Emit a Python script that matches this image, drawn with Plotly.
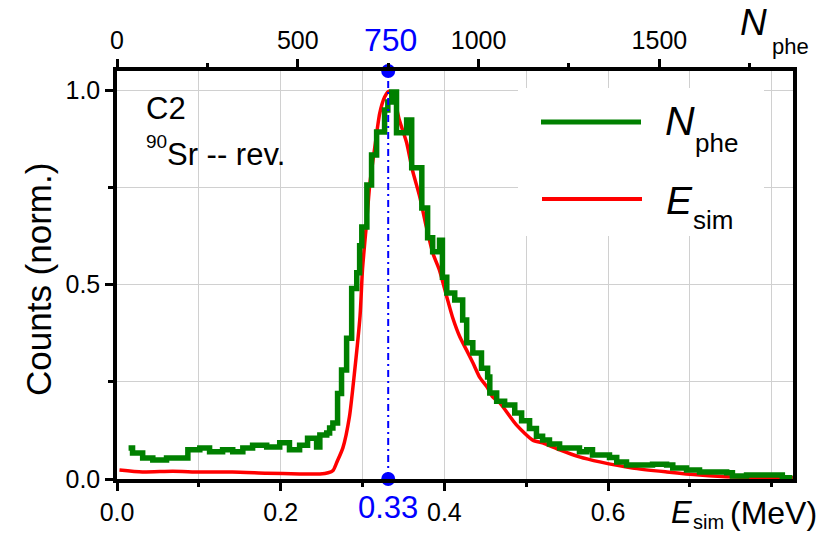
import plotly.graph_objects as go

# ---------------- data ----------------
# green histogram: N_phe (top axis), step start positions and normalised counts
n_phe = [32, 43, 71, 99, 137, 196, 229, 256, 292, 320, 348, 375, 414, 450, 477, 505,
         527, 552, 561, 580, 588, 597, 610, 621, 635, 649, 663, 671, 677, 691, 704,
         718, 740, 749, 760, 773, 801, 815, 843, 859, 873, 892, 900, 912, 934, 956,
         967, 984, 1008, 1025, 1031, 1050, 1072, 1100, 1119, 1141, 1160, 1177, 1196,
         1224, 1279, 1299, 1315, 1362, 1382, 1409, 1481, 1520, 1537, 1575, 1611, 1686,
         1702, 1741, 1813, 1840, 1868]
counts_phe = [0.080, 0.067, 0.054, 0.049, 0.054, 0.075, 0.080, 0.070, 0.075, 0.070, 0.080,
              0.087, 0.082, 0.093, 0.075, 0.087, 0.105, 0.082, 0.113, 0.118, 0.131, 0.144,
              0.220, 0.280, 0.362, 0.490, 0.530, 0.600, 0.648, 0.756, 0.833, 0.892, 0.949,
              0.969, 0.995, 0.890, 0.923, 0.800, 0.697, 0.620, 0.584, 0.614, 0.519, 0.478,
              0.460, 0.409, 0.350, 0.324, 0.285, 0.262, 0.221, 0.200, 0.190, 0.170, 0.150,
              0.130, 0.110, 0.100, 0.090, 0.080, 0.070, 0.075, 0.062, 0.055, 0.044, 0.036,
              0.038, 0.036, 0.028, 0.023, 0.018, 0.016, 0.008, 0.010, 0.010, 0.003, 0.003]

# red curve: simulated energy (bottom axis, MeV)
e_sim = [0.003, 0.031, 0.068, 0.101, 0.141, 0.183, 0.223, 0.248, 0.258, 0.264, 0.269,
         0.276, 0.284, 0.290, 0.297, 0.300, 0.305, 0.309, 0.315, 0.321, 0.327, 0.332,
         0.339, 0.345, 0.354, 0.361, 0.370, 0.378, 0.386, 0.394, 0.403, 0.410, 0.419,
         0.427, 0.435, 0.443, 0.452, 0.459, 0.468, 0.488, 0.508, 0.520, 0.541, 0.565,
         0.590, 0.630, 0.672, 0.712, 0.753, 0.794, 0.826]
counts_sim = [0.023, 0.018, 0.020, 0.018, 0.018, 0.015, 0.013, 0.013, 0.016, 0.022, 0.045,
              0.080, 0.160, 0.270, 0.420, 0.540, 0.660, 0.760, 0.853, 0.940, 0.982, 0.997,
              0.974, 0.923, 0.864, 0.794, 0.725, 0.648, 0.580, 0.537, 0.468, 0.416, 0.365,
              0.332, 0.298, 0.262, 0.237, 0.211, 0.195, 0.139, 0.100, 0.093, 0.075, 0.057,
              0.044, 0.028, 0.018, 0.010, 0.005, 0.004, 0.003]

peak_phe = 750
peak_e = 0.33
x_ticks = [0.0, 0.2, 0.4, 0.6]
x2_ticks = [0, 500, 1000, 1500]
y_ticks = [0.0, 0.5, 1.0]

# ---------------- layout helpers ----------------
L, R, T, B = 117, 34, 71, 55
W, H = 827, 534
PW, PH = W - L - R, H - T - B
FONT = "Liberation Sans, Arial, sans-serif"


def px(x):
    return (x - L) / PW


def py(y):
    return (H - B - y) / PH


fig = go.Figure()

fig.add_trace(go.Scatter(x=e_sim, y=counts_sim, mode="lines", xaxis="x", yaxis="y",
                         line=dict(color="#ff0000", width=3.5, shape="spline", smoothing=0.6),
                         showlegend=False))
fig.add_trace(go.Scatter(x=n_phe, y=counts_phe, mode="lines", xaxis="x2", yaxis="y",
                         line=dict(color="#008000", width=5.5, shape="hv"),
                         showlegend=False))
fig.add_trace(go.Scatter(x=[peak_phe, peak_phe], y=[0, 1.049], mode="lines+markers",
                         xaxis="x2", yaxis="y", cliponaxis=False,
                         line=dict(color="#0000ff", width=2, dash="7px,4px,2px,4px"),
                         marker=dict(color="#0000ff", size=14), showlegend=False))

grid = "#d0d0d0"
axis_common = dict(showline=True, linecolor="black", linewidth=3.5, ticks="outside",
                   ticklen=8, tickwidth=3, tickcolor="black", automargin=False,
                   tickfont=dict(family=FONT, size=25, color="black"), zeroline=False)

fig.update_layout(
    width=W, height=H, margin=dict(l=L, r=R, t=T, b=B, pad=0, autoexpand=False),
    paper_bgcolor="white", plot_bgcolor="white",
    xaxis=dict(range=[0, 0.826], tickvals=x_ticks, tickformat=".1f",
               showgrid=True, gridcolor=grid, gridwidth=1.2, mirror=False,
               minor=dict(dtick=0.1, tick0=0, ticks="outside", ticklen=4, tickwidth=3,
                          tickcolor="black", showgrid=True, gridcolor=grid, gridwidth=1.2),
               **axis_common),
    xaxis2=dict(range=[0, 1869.5], tickvals=x2_ticks, overlaying="x", side="top",
                showgrid=False, anchor="y",
                minor=dict(dtick=250, tick0=0, ticks="outside", ticklen=4, tickwidth=3,
                           tickcolor="black"),
                **axis_common),
    yaxis=dict(range=[0, 1.049], tickvals=y_ticks, tickformat=".1f",
               showgrid=True, gridcolor=grid, gridwidth=1.2, mirror=True,
               minor=dict(dtick=0.25, tick0=0, ticks="outside", ticklen=5, tickwidth=3,
                          tickcolor="black", showgrid=True, gridcolor=grid, gridwidth=1.2),
               **axis_common),
)

# legend (manual) with white background
fig.add_shape(type="rect", xref="paper", yref="paper", x0=px(518), x1=px(764),
              y0=py(236), y1=py(88), fillcolor="white", line=dict(width=0), layer="above")
fig.add_shape(type="line", xref="paper", yref="paper", x0=px(541), x1=px(641),
              y0=py(122), y1=py(122), line=dict(color="#008000", width=5), layer="above")
fig.add_shape(type="line", xref="paper", yref="paper", x0=px(542), x1=px(642),
              y0=py(199), y1=py(199), line=dict(color="#ff0000", width=4), layer="above")


def ann(text, x, y, size, xanchor="left", color="black", italic=False, angle=0):
    fig.add_annotation(text=f"<i>{text}</i>" if italic else text, xref="paper", yref="paper",
                       x=px(x), y=py(y), xanchor=xanchor, yanchor="middle", showarrow=False,
                       textangle=angle, borderpad=0,
                       font=dict(family=FONT, size=size, color=color))


ann("N", 664, 120.5, 41, italic=True)
ann("phe", 694, 143, 26)
ann("E", 665, 200.5, 39, italic=True)
ann("sim", 692, 220, 26)

ann("N", 739, 23, 37, italic=True)
ann("phe", 771, 46, 22)

ann("E", 670, 512.5, 31, italic=True)
ann("sim", 692, 522, 20)
ann("(MeV)", 729, 512.5, 32)

ann(f"{peak_phe}", 390, 39.5, 32, xanchor="center", color="#0000ff")
ann(f"{peak_e:.2f}", 388, 507.5, 31, xanchor="center", color="#0000ff")

ann("C2", 145, 108.5, 31)
ann("90", 145, 141.5, 19)
ann("Sr -- rev.", 166, 154, 31)

ann("Counts (norm.)", 38, 280, 35, xanchor="center", angle=-90)

fig.write_html("out.html")
